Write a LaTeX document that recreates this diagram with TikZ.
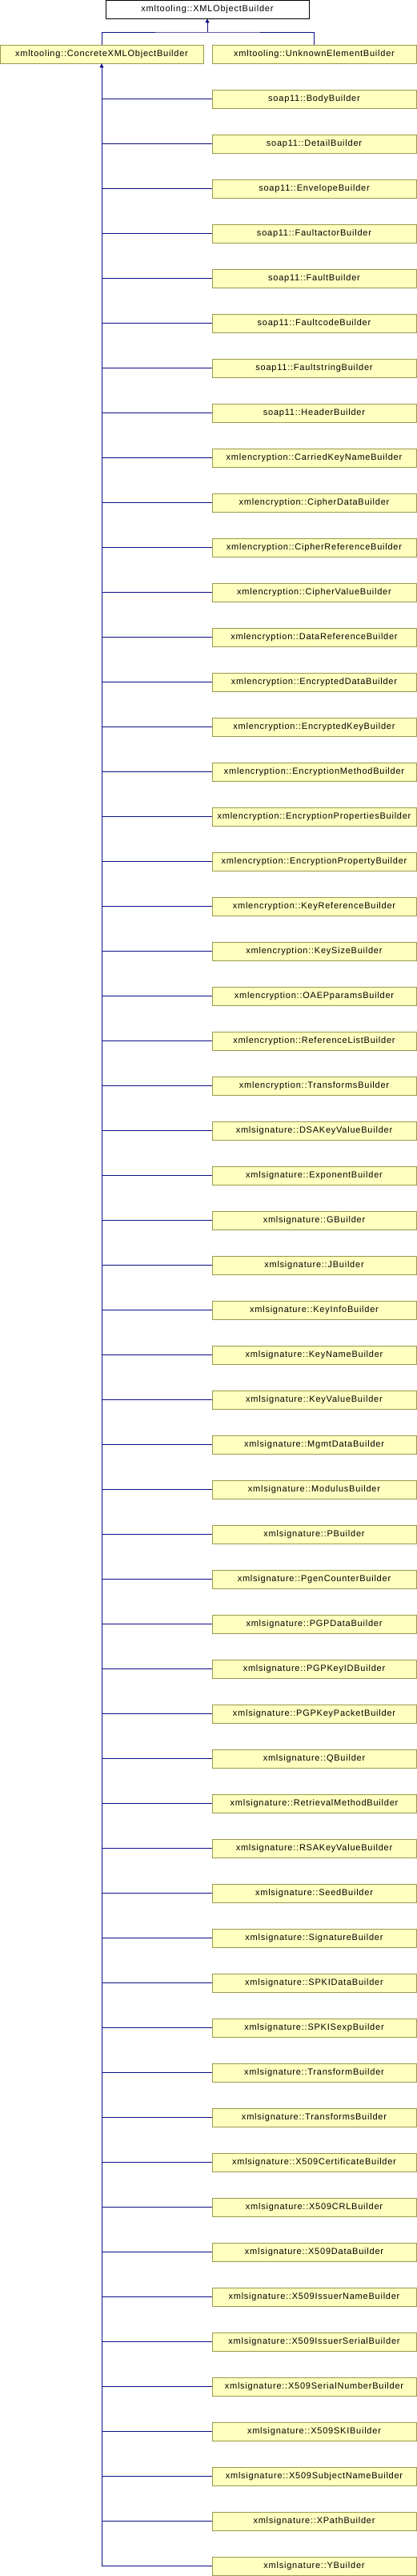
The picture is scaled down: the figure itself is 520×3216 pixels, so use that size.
\documentclass[tikz,border=0pt]{standalone}
\usepackage{fontspec}
\setmainfont{Liberation Sans}[LetterSpace=7]
\usetikzlibrary{arrows.meta}
\definecolor{boxfill}{HTML}{FFFFC0}
\definecolor{boxline}{HTML}{9A9A4A}
\definecolor{edgeblue}{HTML}{0E0E86}
\tikzset{
	cls/.style={draw=boxline, fill=boxfill, line width=0.8pt, minimum width=254pt, minimum height=23pt, inner sep=0pt, font=\fontsize{11}{13}\selectfont},
	root/.style={cls, draw=black, fill=white},
	edge/.style={draw=edgeblue, line width=0.9pt},
	tip/.style={-{Triangle[length=5pt, width=5pt]}}
}
\begin{document}
\begin{tikzpicture}[x=1pt, y=-1pt]
	\useasboundingbox (0,0) rectangle (520,3216);
	% derived builders
	\def\builders {soap11::BodyBuilder, soap11::DetailBuilder, soap11::EnvelopeBuilder,
		soap11::FaultactorBuilder, soap11::FaultBuilder, soap11::FaultcodeBuilder,
		soap11::FaultstringBuilder, soap11::HeaderBuilder,
		xmlencryption::CarriedKeyNameBuilder, xmlencryption::CipherDataBuilder,
		xmlencryption::CipherReferenceBuilder, xmlencryption::CipherValueBuilder,
		xmlencryption::DataReferenceBuilder, xmlencryption::EncryptedDataBuilder,
		xmlencryption::EncryptedKeyBuilder, xmlencryption::EncryptionMethodBuilder,
		xmlencryption::EncryptionPropertiesBuilder, xmlencryption::EncryptionPropertyBuilder,
		xmlencryption::KeyReferenceBuilder, xmlencryption::KeySizeBuilder,
		xmlencryption::OAEPparamsBuilder, xmlencryption::ReferenceListBuilder,
		xmlencryption::TransformsBuilder,
		xmlsignature::DSAKeyValueBuilder, xmlsignature::ExponentBuilder,
		xmlsignature::GBuilder, xmlsignature::JBuilder, xmlsignature::KeyInfoBuilder,
		xmlsignature::KeyNameBuilder, xmlsignature::KeyValueBuilder,
		xmlsignature::MgmtDataBuilder, xmlsignature::ModulusBuilder,
		xmlsignature::PBuilder, xmlsignature::PgenCounterBuilder,
		xmlsignature::PGPDataBuilder, xmlsignature::PGPKeyIDBuilder,
		xmlsignature::PGPKeyPacketBuilder, xmlsignature::QBuilder,
		xmlsignature::RetrievalMethodBuilder, xmlsignature::RSAKeyValueBuilder,
		xmlsignature::SeedBuilder, xmlsignature::SignatureBuilder,
		xmlsignature::SPKIDataBuilder, xmlsignature::SPKISexpBuilder,
		xmlsignature::TransformBuilder, xmlsignature::TransformsBuilder,
		xmlsignature::X509CertificateBuilder, xmlsignature::X509CRLBuilder,
		xmlsignature::X509DataBuilder, xmlsignature::X509IssuerNameBuilder,
		xmlsignature::X509IssuerSerialBuilder, xmlsignature::X509SerialNumberBuilder,
		xmlsignature::X509SKIBuilder, xmlsignature::X509SubjectNameBuilder,
		xmlsignature::XPathBuilder, xmlsignature::YBuilder};
	% base classes
	\node[root] (xmlobj) at (259, 11.5) {xmltooling::XMLObjectBuilder};
	\node[cls] (concrete) at (127, 67.5) {xmltooling::ConcreteXMLObjectBuilder};
	\node[cls, minimum width=255pt] (unknown) at (392.5, 67.5) {xmltooling::UnknownElementBuilder};
	\coordinate (split) at (259, 40);
	\draw[edge] (concrete.north) |- (split) -| (unknown.north);
	\draw[edge, tip] (split) -- (xmlobj.south);
	% derived classes and edges
	\foreach \name [count=\index] in \builders
	{
		\node[cls, minimum width=255pt] (b_\index) at (392.5, 67.5 + 56 * \index) {\name};
		\draw[edge] (b_\index.west) -- (concrete.south |- b_\index.west);
	}
	\draw[edge, tip] (concrete.south |- b_56.west) -- (concrete.south);
\end{tikzpicture}
\end{document}
